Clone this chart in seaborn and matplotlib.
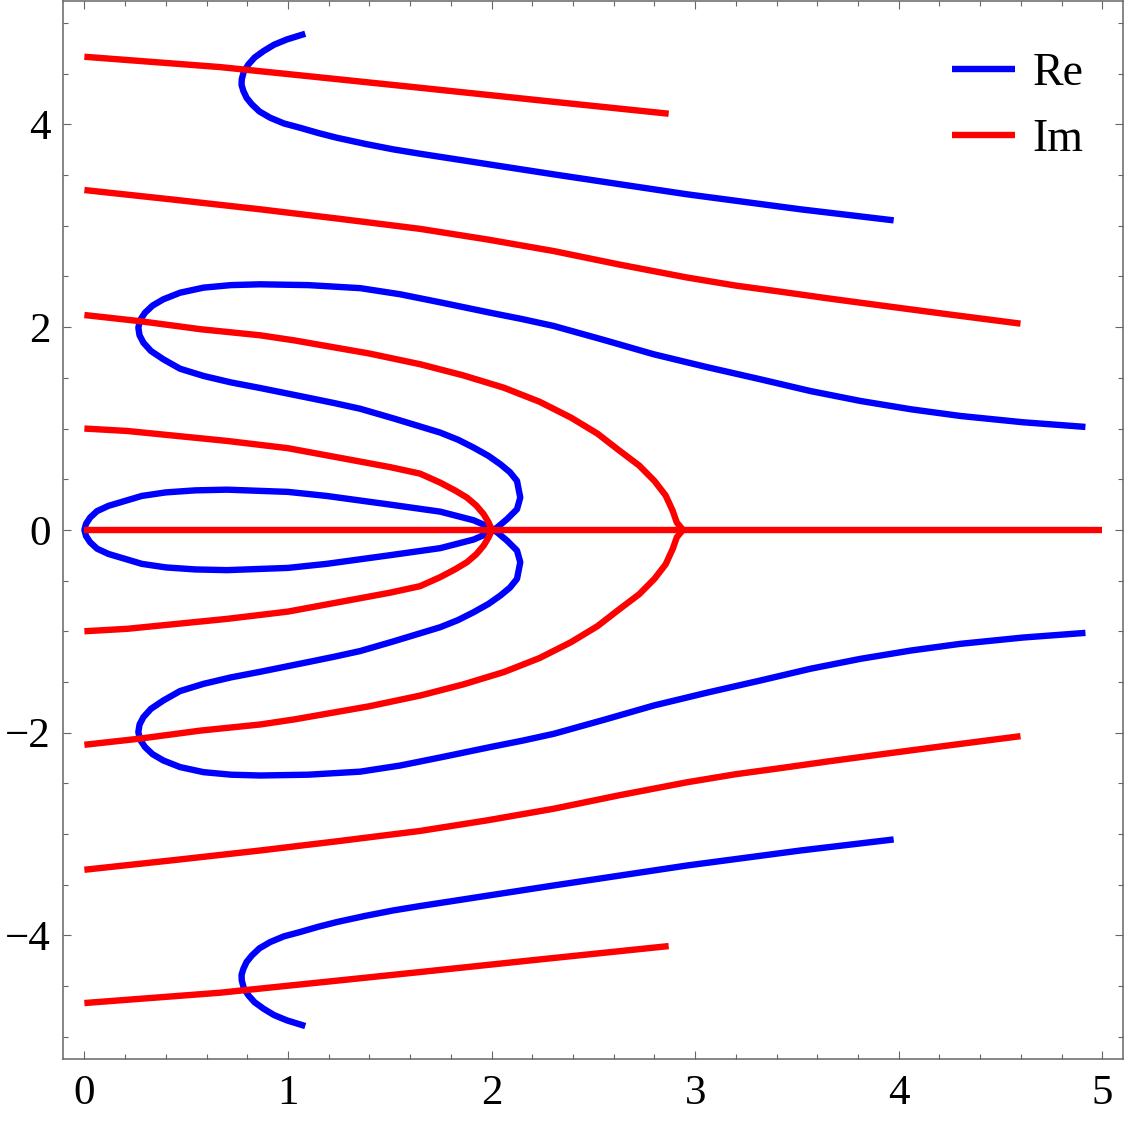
import numpy as np
import pandas as pd
import seaborn as sns
import matplotlib
matplotlib.use("Agg")
import matplotlib.pyplot as plt
from matplotlib.ticker import MultipleLocator
from matplotlib.lines import Line2D

# ---------------- data (upper half-plane; curves are symmetric in y) ----------------
# Re = 0 curves (blue)
re_loop_x = [2.01, 1.994, 1.912, 1.748, 1.50, 1.19, 1.0, 0.70, 0.544, 0.40, 0.282, 0.118, 0.062,
             0.028, 0.008, 0.0]
re_loop_y = [0.0, 0.023, 0.095, 0.18, 0.25, 0.335, 0.375, 0.397, 0.39, 0.37, 0.335, 0.237, 0.185,
             0.121, 0.06, 0.0]

re_mid_x = [2.01, 2.027, 2.076, 2.125, 2.141, 2.125, 2.09, 2.043, 1.985, 1.912, 1.835, 1.748,
            1.518, 1.355, 1.23, 1.109, 0.863, 0.72, 0.585, 0.47, 0.388, 0.327, 0.29, 0.271,
            0.265, 0.274, 0.298, 0.335, 0.388, 0.47, 0.585, 0.72, 0.863, 1.10, 1.355, 1.55,
            1.748, 2.0, 2.15, 2.305, 2.55, 2.796, 3.06, 3.32, 3.566, 3.812, 4.06, 4.303,
            4.61, 4.917]
re_mid_y = [0.0, 0.023, 0.106, 0.204, 0.319, 0.483, 0.57, 0.648, 0.73, 0.812, 0.89, 0.96,
            1.10, 1.195, 1.25, 1.30, 1.40, 1.455, 1.519, 1.59, 1.683, 1.765, 1.847, 1.92,
            1.995, 2.07, 2.143, 2.213, 2.275, 2.34, 2.39, 2.415, 2.423, 2.415, 2.385, 2.325,
            2.245, 2.14, 2.08, 2.012, 1.875, 1.733, 1.605, 1.486, 1.37, 1.272, 1.19, 1.124,
            1.062, 1.016]

re_top_x = [1.085, 0.995, 0.932, 0.88, 0.836, 0.806, 0.783, 0.773, 0.772, 0.781, 0.797, 0.823,
            0.86, 0.913, 0.98, 1.06, 1.15, 1.24, 1.38, 1.518, 1.649, 2.305, 2.96, 3.517, 3.975]
re_top_y = [4.895, 4.839, 4.787, 4.724, 4.66, 4.593, 4.52, 4.445, 4.39, 4.33, 4.262, 4.198,
            4.128, 4.066, 4.01, 3.967, 3.915, 3.869, 3.808, 3.754, 3.711, 3.508, 3.311, 3.163,
            3.054]

# Im = 0 curves (red)
im_axis_x = [0.0, 5.0]
im_axis_y = [0.0, 0.0]

im_inner_x = [0.0, 0.21, 0.70, 1.0, 1.355, 1.50, 1.649, 1.748, 1.82, 1.879, 1.925, 1.961, 1.985, 2.002]
im_inner_y = [1.0, 0.976, 0.878, 0.806, 0.674, 0.62, 0.555, 0.466, 0.39, 0.319, 0.24, 0.155, 0.075, 0.0]

im_outer_x = [0.0, 0.27, 0.57, 0.863, 1.03, 1.40, 1.65, 1.86, 2.06, 2.235, 2.39, 2.52, 2.63,
              2.725, 2.80, 2.855, 2.89, 2.91, 2.94]
im_outer_y = [2.12, 2.06, 1.98, 1.92, 1.87, 1.74, 1.634, 1.525, 1.403, 1.265, 1.108, 0.95, 0.779,
              0.635, 0.483, 0.34, 0.187, 0.072, 0.0]

im_band_x = [0.0, 0.43, 0.863, 1.25, 1.649, 1.98, 2.305, 2.63, 2.96, 3.2, 3.42, 3.65, 3.91,
             4.25, 4.598]
im_band_y = [3.353, 3.26, 3.163, 3.07, 2.97, 2.865, 2.751, 2.617, 2.49, 2.41, 2.35, 2.285,
             2.215, 2.125, 2.035]

im_top_x = [0.0, 0.667, 1.256, 1.649, 2.25, 2.87]
im_top_y = [4.668, 4.566, 4.444, 4.362, 4.235, 4.106]

# ---------------- assemble long-form table ----------------
rows = []


def add(name, kind, xs, ys):
    for i, (a, b) in enumerate(zip(xs, ys)):
        rows.append({"curve": name, "kind": kind, "order": i, "x": a, "y": b})


def closed_loop(xs, ys):
    fx = list(xs) + list(xs[::-1][1:])
    fy = list(ys) + [-v for v in ys[::-1][1:]]
    return fx, fy


def through_axis(xs, ys):
    # xs, ys listed starting at the axis point (y=0) and going outward
    fx = list(xs[::-1]) + list(xs[1:])
    fy = [-v for v in ys[::-1]] + list(ys[1:])
    return fx, fy


add("re_loop", "Re", *closed_loop(re_loop_x, re_loop_y))
add("re_mid", "Re", *through_axis(re_mid_x, re_mid_y))
add("re_top_u", "Re", re_top_x, re_top_y)
add("re_top_l", "Re", re_top_x, [-v for v in re_top_y])

add("im_axis", "Im", im_axis_x, im_axis_y)
add("im_inner", "Im", *through_axis(im_inner_x[::-1], im_inner_y[::-1]))
add("im_outer", "Im", *through_axis(im_outer_x[::-1], im_outer_y[::-1]))
add("im_band_u", "Im", im_band_x, im_band_y)
add("im_band_l", "Im", im_band_x, [-v for v in im_band_y])
add("im_top_u", "Im", im_top_x, im_top_y)
add("im_top_l", "Im", im_top_x, [-v for v in im_top_y])

df = pd.DataFrame(rows)

# ---------------- plot ----------------
sns.set_theme(style="ticks")
plt.rcParams["font.family"] = ["Liberation Serif", "DejaVu Serif"]
plt.rcParams["axes.unicode_minus"] = True

fig = plt.figure(figsize=(11.25, 11.21), dpi=100)
ax = fig.add_axes([63 / 1125, 1 - 1059 / 1121, (1122.7 - 63) / 1125, (1059 - 0.8) / 1121])

palette = {"Re": "#0000ff", "Im": "#ff0000"}
LW = 4.6
sns.lineplot(data=df, x="x", y="y", hue="kind", units="curve", estimator=None,
             sort=False, palette=palette, linewidth=LW, legend=False, ax=ax,
             solid_capstyle="butt", solid_joinstyle="round")

ax.set_xlim(-0.105, 5.10)
ax.set_ylim(-5.22, 5.22)
ax.set_xlabel("")
ax.set_ylabel("")

ax.xaxis.set_major_locator(MultipleLocator(1))
ax.xaxis.set_minor_locator(MultipleLocator(0.2))
ax.yaxis.set_major_locator(MultipleLocator(2))
ax.yaxis.set_minor_locator(MultipleLocator(0.5))

frame_color = "#666666"
for s in ax.spines.values():
    s.set_color(frame_color)
    s.set_linewidth(1.1)

ax.tick_params(which="both", direction="in", top=True, right=True,
               color=frame_color, width=0.8, labelcolor="black")
ax.tick_params(which="major", length=6.0, labelsize=31)
ax.tick_params(axis="x", which="major", pad=11)
ax.tick_params(axis="y", which="major", pad=9)
ax.tick_params(which="minor", length=3.6)

handles = [Line2D([0], [0], color=palette["Re"], lw=LW, solid_capstyle="butt"),
           Line2D([0], [0], color=palette["Im"], lw=LW, solid_capstyle="butt")]
leg = ax.legend(handles, ["Re", "Im"], loc="upper left",
                bbox_to_anchor=((952 - 63) / (1122.7 - 63), 1 - 52 / 1058),
                frameon=False, fontsize=33, handlelength=1.375, handletextpad=0.38,
                labelspacing=0.5, borderpad=0.0, borderaxespad=0.0)
for t in leg.get_texts():
    t.set_color("black")

fig.savefig("out.png", dpi=100)
